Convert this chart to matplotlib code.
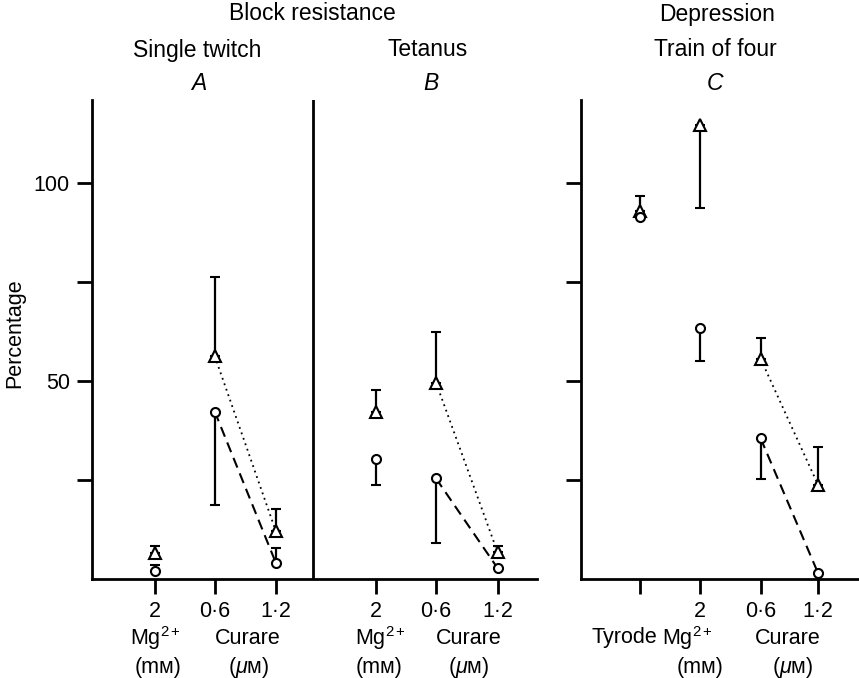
import matplotlib
matplotlib.use("Agg")
import matplotlib.pyplot as plt
import numpy as np

plt.rcParams['font.family'] = ['Liberation Sans', 'DejaVu Sans']
plt.rcParams['mathtext.fontset'] = 'custom'
plt.rcParams['mathtext.rm'] = 'Liberation Sans'
plt.rcParams['mathtext.it'] = 'Liberation Sans:italic'

# --- data (percentage) ---
# panel A: single twitch block resistance  (Mg 2 mM, curare 0.6, curare 1.2)
a_tri = [6.5, 56.3, 12.1]
a_tri_lo = [0, 0, 0]
a_tri_hi = [1.8, 19.9, 5.5]
a_circ = [2.1, 42.3, 4.1]
a_circ_lo = [0, 23.6, 0]
a_circ_hi = [1.4, 0, 3.8]

# panel B: tetanus block resistance
b_tri = [42.3, 49.6, 6.7]
b_tri_lo = [0, 0, 0]
b_tri_hi = [5.4, 12.9, 1.7]
b_circ = [30.3, 25.4, 2.7]
b_circ_lo = [6.6, 16.4, 0]
b_circ_hi = [0, 0, 0]

# panel C: train of four depression (Tyrode, Mg 2 mM, curare 0.6, curare 1.2)
c_tri = [92.9, 114.6, 55.6, 23.7]
c_tri_lo = [0, 21.0, 0, 0]
c_tri_hi = [3.9, 0, 5.4, 9.7]
c_circ = [91.5, 63.3, 35.5, 1.4]
c_circ_lo = [0, 8.2, 10.2, 0]
c_circ_hi = [0, 0, 0, 0]

ab_ticklabels = ['2', '0·6', '1·2', '2', '0·6', '1·2']
c_ticklabels = ['', '2', '0·6', '1·2']

# x positions
pos_a = np.array([1.04, 2.03, 3.04])
pos_b = np.array([4.69, 5.69, 6.71])
divider_x = 3.65
pos_c = np.array([1.0, 2.0, 3.03, 4.0])

FS = 15.5
FS_HEAD = 16.5
W, H = 859, 678
fig = plt.figure(figsize=(W / 100, H / 100), dpi=100)


def fx(px):
    return px / W


def fy(py):
    return 1 - py / H


ax1 = fig.add_axes([fx(92), fy(579), fx(537) - fx(92), fy(100) - fy(579)])
ax2 = fig.add_axes([fx(581), fy(579), fx(859) - fx(581), fy(100) - fy(579)])

mk = dict(color='black', ecolor='black', elinewidth=1.6, capsize=3.5, capthick=1.6,
          markerfacecolor='white', markeredgecolor='black', markeredgewidth=1.5,
          linestyle='none', zorder=3)


def draw(ax, pos, tri, tlo, thi, circ, clo, chi):
    ax.errorbar(pos, tri, yerr=[tlo, thi], marker='^', markersize=8, **mk)
    ax.errorbar(pos, circ, yerr=[clo, chi], marker='o', markersize=6.5, **mk)
    # curare 0.6 -> 1.2 connecting lines
    ax.plot(pos[-2:], tri[-2:], color='black', linestyle=(0, (1, 2.2)), linewidth=1.3, zorder=2)
    ax.plot(pos[-2:], circ[-2:], color='black', linestyle=(0, (5, 3)), linewidth=1.5, zorder=2)


draw(ax1, pos_a, a_tri, a_tri_lo, a_tri_hi, a_circ, a_circ_lo, a_circ_hi)
draw(ax1, pos_b, b_tri, b_tri_lo, b_tri_hi, b_circ, b_circ_lo, b_circ_hi)
draw(ax2, pos_c, c_tri, c_tri_lo, c_tri_hi, c_circ, c_circ_lo, c_circ_hi)

ax1.axvline(divider_x, color='black', linewidth=2.0)

ax1.set_xlim(0, 7.36)
ax2.set_xlim(0, 278 / 59.3)
for ax in (ax1, ax2):
    ax.set_ylim(0, 121)
    ax.spines['top'].set_visible(False)
    ax.spines['right'].set_visible(False)
    ax.spines['left'].set_linewidth(2.0)
    ax.spines['bottom'].set_linewidth(2.0)
    ax.set_yticks([25, 50, 75, 100])
    ax.tick_params(axis='both', direction='out', length=11, width=2.0,
                   labelsize=FS, pad=5)

ax1.set_yticklabels(['', '50', '', '100'])
ax2.set_yticklabels([])
ax1.set_xticks(np.concatenate([pos_a, pos_b]))
ax1.set_xticklabels(ab_ticklabels)
ax2.set_xticks(pos_c)
ax2.set_xticklabels(c_ticklabels)

fig.text(fx(15), fy(333), 'Percentage', rotation=90, ha='center', va='center', fontsize=FS)

# headings
fig.text(fx(312), fy(14), 'Block resistance', ha='center', va='center', fontsize=FS_HEAD)
fig.text(fx(197), fy(50), 'Single twitch', ha='center', va='center', fontsize=FS_HEAD)
fig.text(fx(428), fy(50), 'Tetanus', ha='center', va='center', fontsize=FS_HEAD)
fig.text(fx(717), fy(14), 'Depression', ha='center', va='center', fontsize=FS_HEAD)
fig.text(fx(715), fy(50), 'Train of four', ha='center', va='center', fontsize=FS_HEAD)
for px, letter in [(199, 'A'), (431, 'B'), (715, 'C')]:
    fig.text(fx(px), fy(84), letter, ha='center', va='center', fontsize=FS_HEAD, style='italic')

# x-axis group labels
mg = r'Mg$^{\mathregular{2+}}$'
for px_mg, px_mm in [(155, 158), (380, 379)]:
    fig.text(fx(px_mg), fy(638), mg, ha='center', va='center', fontsize=FS)
    fig.text(fx(px_mm), fy(667), '(mᴍ)', ha='center', va='center', fontsize=FS)
for px_c, px_um in [(248, 249), (469, 469)]:
    fig.text(fx(px_c), fy(638), 'Curare', ha='center', va='center', fontsize=FS)
    fig.text(fx(px_um), fy(667), r'($\mu$ᴍ)', ha='center', va='center', fontsize=FS)
fig.text(fx(624), fy(638), 'Tyrode', ha='center', va='center', fontsize=FS)
fig.text(fx(687), fy(638), mg, ha='center', va='center', fontsize=FS)
fig.text(fx(700), fy(667), '(mᴍ)', ha='center', va='center', fontsize=FS)
fig.text(fx(788), fy(638), 'Curare', ha='center', va='center', fontsize=FS)
fig.text(fx(793), fy(667), r'($\mu$ᴍ)', ha='center', va='center', fontsize=FS)

fig.savefig('out.png', dpi=100)
